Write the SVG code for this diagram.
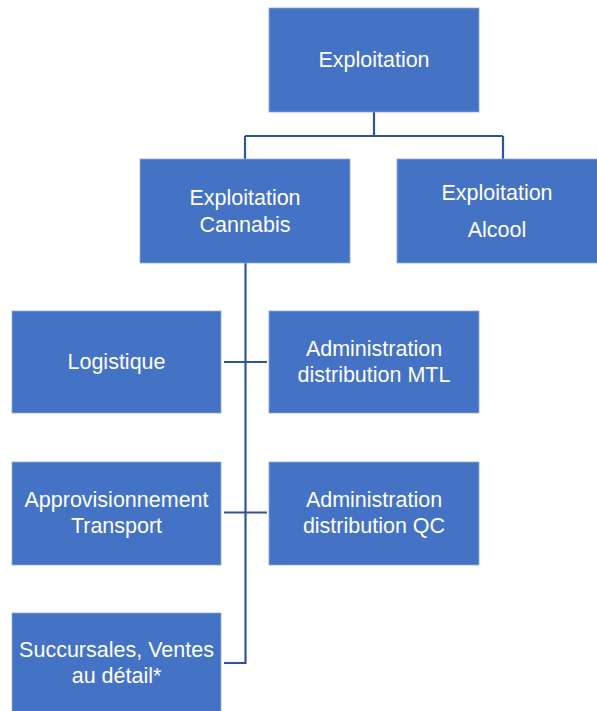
<svg xmlns="http://www.w3.org/2000/svg" width="597" height="711" viewBox="0 0 597 711">
<style>
.box{fill:#4472C4;stroke:#8FAADC;stroke-width:0.8}
.t{fill:#ffffff;font-family:"Liberation Sans",Arial,sans-serif;font-size:21.5px;text-anchor:middle}
.c{fill:none;stroke:#2F5597;stroke-width:2.2}
</style>
<rect width="597" height="711" fill="#ffffff"/>
<g id="connectors">
<path class="c" d="M374,112 V136 M245,136 H503 M245,136 V159 M503,136 V159"/>
<path class="c" d="M245.5,263 V663 H224 M224,362 H267 M224,512.5 H267"/>
</g>
<g id="n-exploitation"><rect class="box" x="269" y="8" width="210" height="104"/><text class="t" x="374" y="67">Exploitation</text></g>
<g id="n-cannabis"><rect class="box" x="140" y="159" width="210" height="104"/><text class="t" x="245" y="205">Exploitation</text><text class="t" x="245" y="232">Cannabis</text></g>
<g id="n-alcool"><rect class="box" x="397" y="159" width="210" height="104"/><text class="t" x="497" y="200">Exploitation</text><text class="t" x="497" y="237">Alcool</text></g>
<g id="n-logistique"><rect class="box" x="12" y="311" width="209" height="102"/><text class="t" x="116.5" y="369">Logistique</text></g>
<g id="n-admin-mtl"><rect class="box" x="269" y="311" width="210" height="102"/><text class="t" x="374" y="356">Administration</text><text class="t" x="374" y="382">distribution MTL</text></g>
<g id="n-approv"><rect class="box" x="12" y="462" width="209" height="103"/><text class="t" x="116.5" y="507">Approvisionnement</text><text class="t" x="116.5" y="533">Transport</text></g>
<g id="n-admin-qc"><rect class="box" x="269" y="462" width="210" height="103"/><text class="t" x="374" y="507">Administration</text><text class="t" x="374" y="533">distribution QC</text></g>
<g id="n-succursales"><rect class="box" x="12" y="613" width="209" height="104"/><text class="t" x="116.5" y="657">Succursales, Ventes</text><text class="t" x="116.5" y="683">au détail*</text></g>
</svg>
